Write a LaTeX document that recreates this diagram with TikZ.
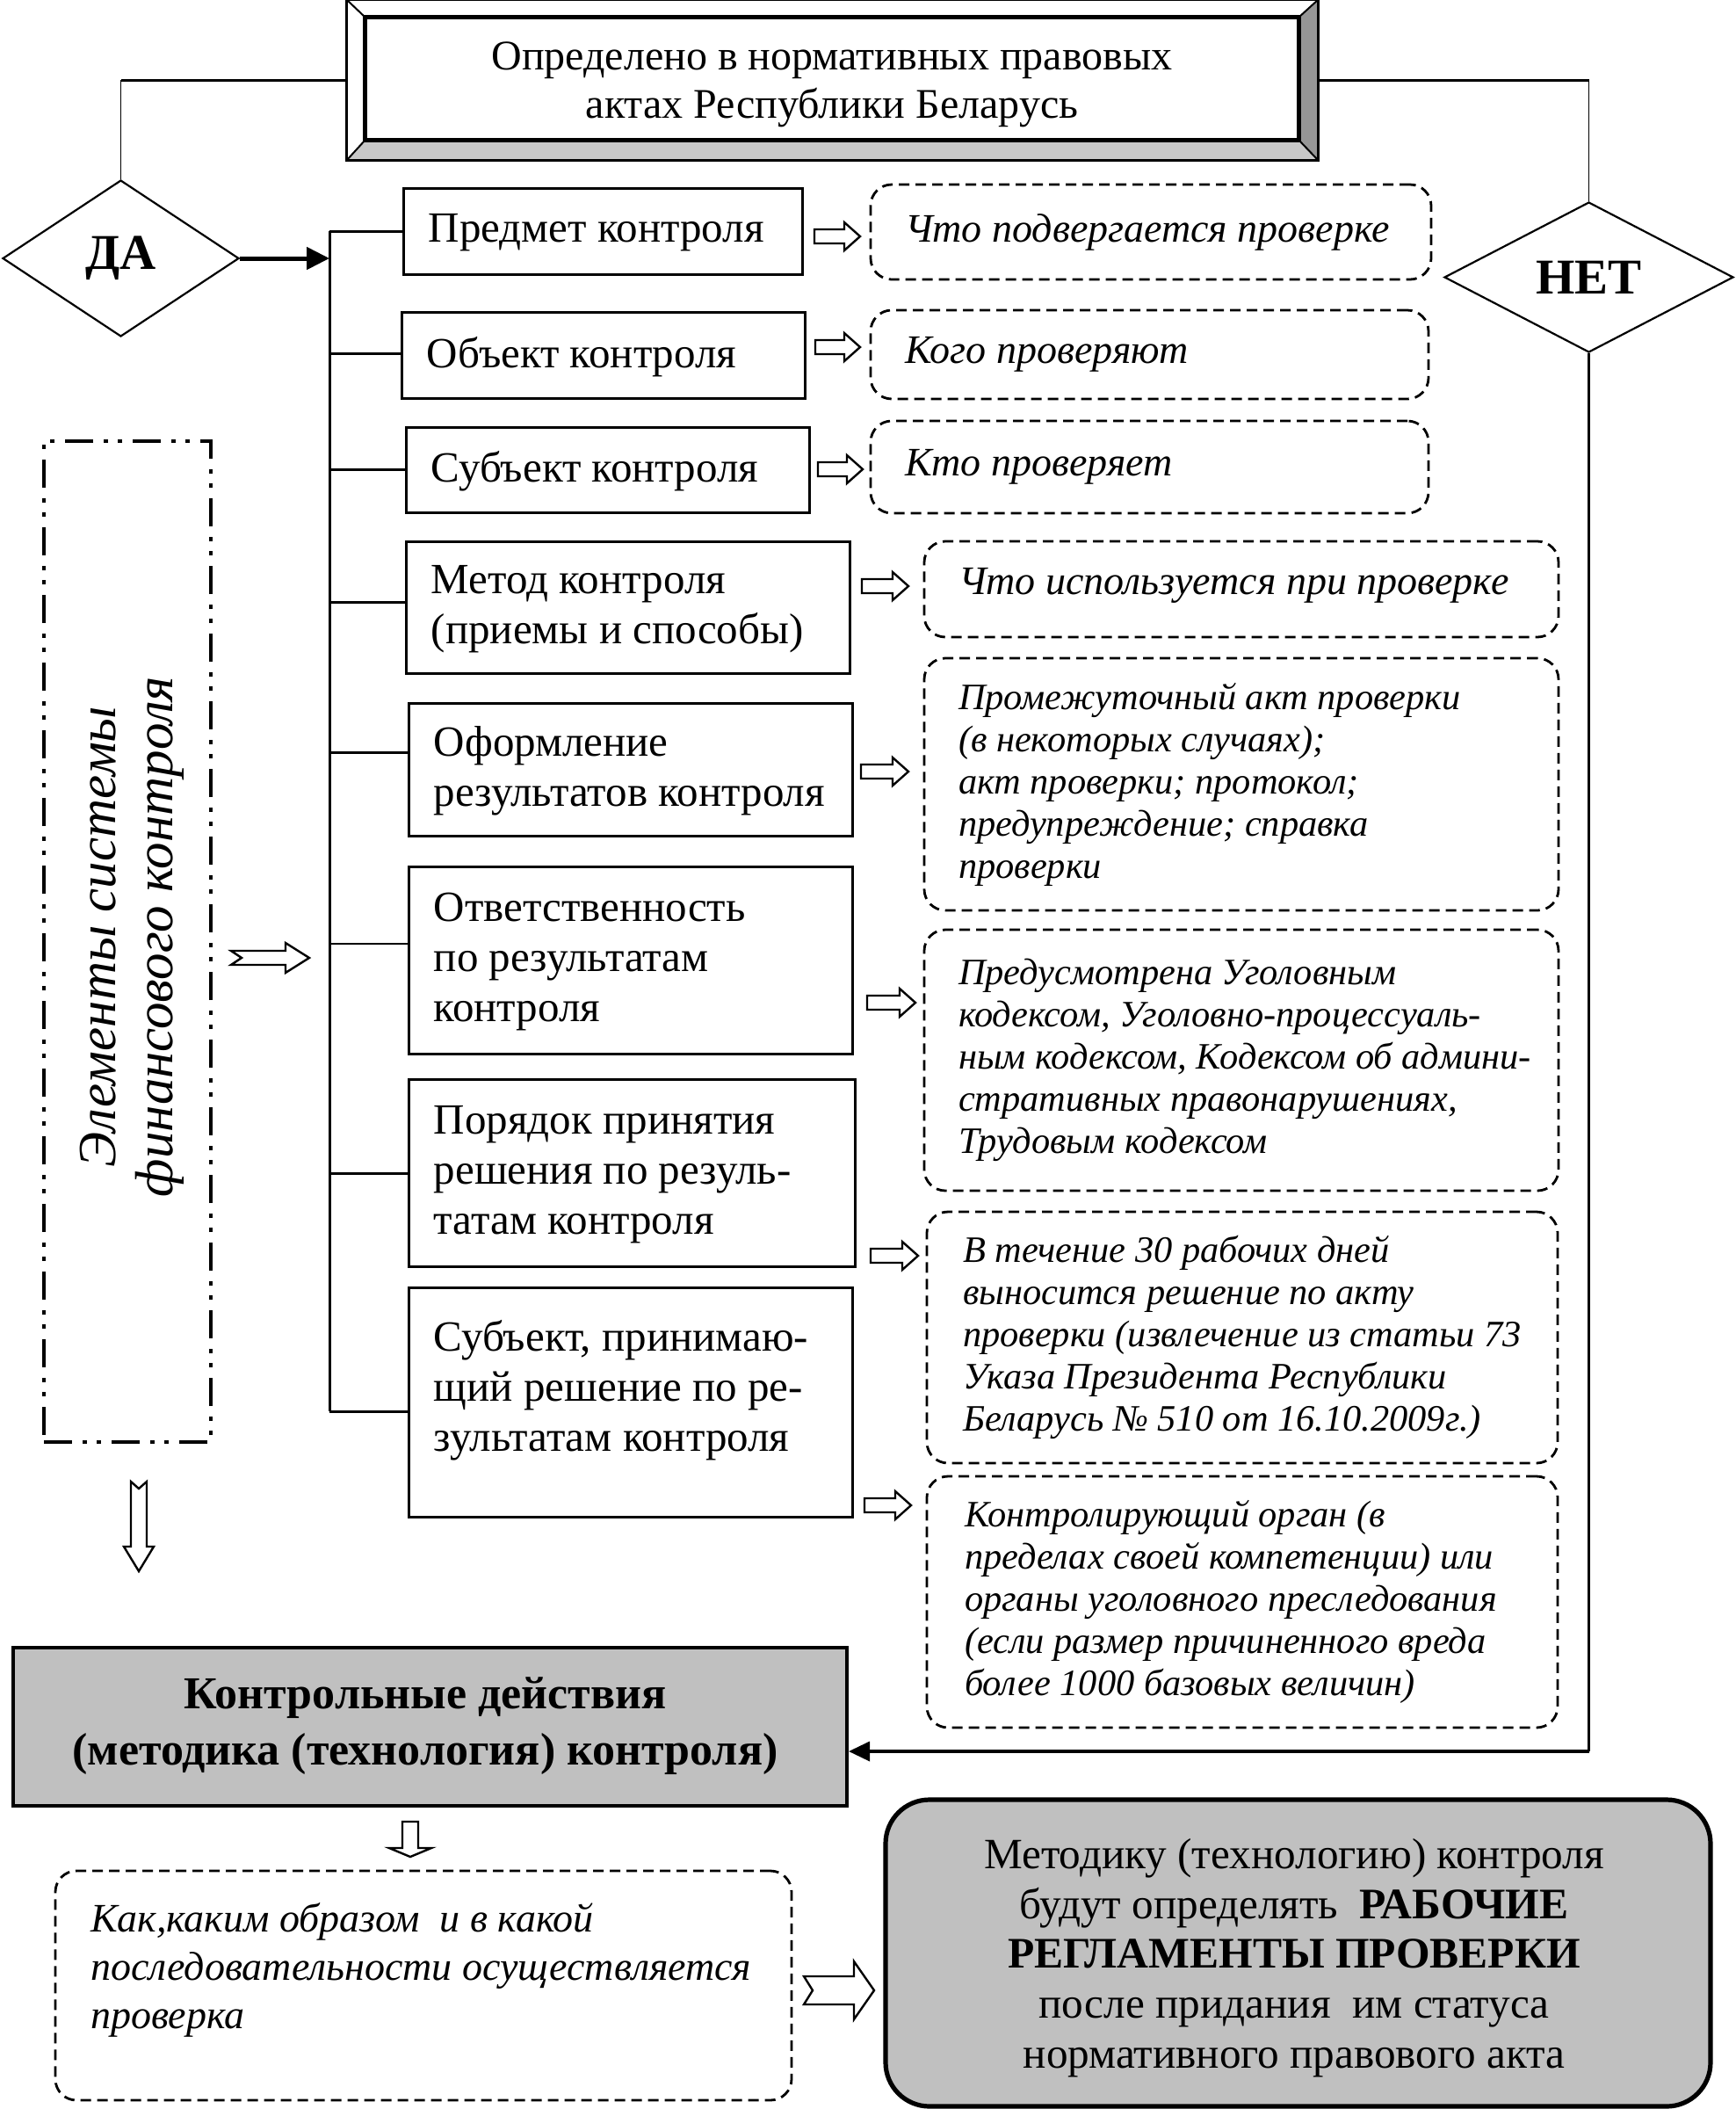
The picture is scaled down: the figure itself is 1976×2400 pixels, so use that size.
\documentclass[tikz,border=0pt]{standalone}
\usepackage{fontspec}
\setmainfont{Liberation Serif}
\usetikzlibrary{shapes.geometric,arrows.meta,calc}
\definecolor{boxgray}{RGB}{192,192,192}
\definecolor{bevdark}{RGB}{150,150,150}
\definecolor{bevlight}{RGB}{200,200,200}
\newcommand{\harr}[8]{%
  \draw[harrow, shift={(#1,#2)}, rotate=#3] (0,-#5) -- ({#4-#7},-#5) -- ({#4-#7},-#6) -- (#4,0) -- ({#4-#7},#6) -- ({#4-#7},#5) -- (0,#5) -- (#8,0) -- cycle;}
\begin{document}
\begin{tikzpicture}[x=0.5pt,y=-0.5pt,
  lbox/.style={draw, line width=1.5pt, inner sep=0pt},
  ltext/.style={anchor=west, align=left, inner sep=0pt, font=\fontsize{24.5}{28.6}\selectfont},
  rbox/.style={draw, line width=1.4pt, dash pattern=on 6pt off 3.5pt, rounded corners=12pt, inner sep=0pt},
  rtext/.style={anchor=west, align=left, inner sep=0pt, font=\fontsize{21.2}{24}\selectfont\itshape},
  rtextbig/.style={rtext, font=\fontsize{23}{26}\selectfont\itshape},
  harrow/.style={draw, line width=1.2pt, fill=white, line join=miter},
  link/.style={line width=1.5pt},
  thinlink/.style={line width=0.9pt},
  dia/.style={diamond, draw, line width=1.1pt, inner sep=0pt, font=\fontsize{28.5}{32}\selectfont\bfseries}
]
\useasboundingbox (0,0) rectangle (1976,2400);

% ---------- top bevel box ----------
\path node[minimum width=552.5pt, minimum height=91pt, inner sep=0pt] (top) at (947.5,91) {};
\path node[minimum width=531pt, minimum height=69.5pt, inner sep=0pt] (topin) at (947,89.5) {};
\fill[bevdark] (topin.north east) -- (top.north east) -- (top.south east) -- (topin.south east) -- cycle;
\fill[bevlight] (topin.south west) -- (topin.south east) -- (top.south east) -- (top.south west) -- cycle;
\draw[line width=1.6pt] (top.south west) rectangle (top.north east);
\draw[line width=2.2pt] (topin.south west) rectangle (topin.north east);
\draw[line width=1pt] (top.north west) -- (topin.north west);
\draw[line width=1pt] (top.north east) -- (topin.north east);
\draw[line width=1pt] (top.south west) -- (topin.south west);
\draw[line width=1pt] (top.south east) -- (topin.south east);
\node[align=center, inner sep=0pt, font=\fontsize{24}{27.5}\selectfont] (toptext) at ([yshift=-3.5pt]topin.center) {Определено в нормативных правовых\\актах Республики Беларусь};

% ---------- diamonds ----------
\node[dia, minimum width=134.5pt, minimum height=89pt] (da) at (137.5,294) {ДА};
\node[dia, minimum width=164.5pt, minimum height=85.5pt] (net) at (1808.5,315.5) {НЕТ};

% ---------- left boxes ----------
\node[lbox, minimum width=227pt, minimum height=49pt] (b1) at (686,263) {};
\node[lbox, minimum width=229.5pt, minimum height=49pt] (b2) at (686.5,404) {};
\node[lbox, minimum width=229.5pt, minimum height=48.5pt] (b3) at (691.5,534.5) {};
\node[lbox, minimum width=252.5pt, minimum height=75pt] (b4) at (714.5,691) {};
\node[lbox, minimum width=252.5pt, minimum height=75.5pt] (b5) at (717.5,875.5) {};
\node[lbox, minimum width=252.5pt, minimum height=106.5pt] (b6) at (717.5,1092.5) {};
\node[lbox, minimum width=254pt, minimum height=106.5pt] (b7) at (719,1334.5) {};
\node[lbox, minimum width=252.5pt, minimum height=130.5pt] (b8) at (717.5,1595.5) {};

\node[ltext] (t1) at ([xshift=15pt,yshift=-1pt]b1.west) {Предмет контроля};
\node[ltext] (t2) at ([xshift=15pt,yshift=-1pt]b2.west) {Объект контроля};
\node[ltext] (t3) at ([xshift=15pt,yshift=-1pt]b3.west) {Субъект контроля};
\node[ltext] (t4) at ([xshift=15pt,yshift=-1pt]b4.west) {Метод контроля\\(приемы и способы)};
\node[ltext] (t5) at ([xshift=15pt,yshift=-1pt]b5.west) {Оформление\\результатов контроля};
\node[ltext] (t6) at ([xshift=15pt,yshift=-1pt]b6.west) {Ответственность\\по результатам\\контроля};
\node[ltext] (t7) at ([xshift=15pt,yshift=-1pt]b7.west) {Порядок принятия\\решения по резуль-\\татам контроля};
\node[ltext] (t8) at ([xshift=15pt,yshift=6.5pt]b8.west) {Субъект, принимаю-\\щий решение по ре-\\зультатам контроля};

% ---------- right dashed boxes ----------
\node[rbox, minimum width=319pt, minimum height=54pt] (r1) at (1310,264) {};
\node[rbox, minimum width=317.5pt, minimum height=50.5pt] (r2) at (1308.5,403.5) {};
\node[rbox, minimum width=317.5pt, minimum height=52.5pt] (r3) at (1308.5,531.5) {};
\node[rbox, minimum width=361pt, minimum height=54.5pt] (r4) at (1413,670.5) {};
\node[rbox, minimum width=361pt, minimum height=143.5pt] (r5) at (1413,892.5) {};
\node[rbox, minimum width=361pt, minimum height=148.5pt] (r6) at (1413,1206.5) {};
\node[rbox, minimum width=359pt, minimum height=143pt] (r7) at (1414,1522) {};
\node[rbox, minimum width=359pt, minimum height=143pt] (r8) at (1414,1823) {};

\node[rtextbig] (s1) at ([xshift=20pt]r1.west) {Что подвергается проверке};
\node[rtextbig] (s2) at ([xshift=20pt]r2.west) {Кого проверяют};
\node[rtextbig] (s3) at ([xshift=20pt]r3.west) {Кто проверяет};
\node[rtextbig] (s4) at ([xshift=20pt,yshift=2pt]r4.west) {Что используется при проверке};
\node[rtext] (s5) at ([xshift=20pt]r5.west) {Промежуточный акт проверки\\(в некоторых случаях);\\акт проверки; протокол;\\предупреждение; справка\\проверки};
\node[rtext] (s6) at ([xshift=20pt]r6.west) {Предусмотрена Уголовным\\кодексом, Уголовно-процессуаль-\\ным кодексом, Кодексом об админи-\\стративных правонарушениях,\\Трудовым кодексом};
\node[rtext] (s7) at ([xshift=21pt]r7.west) {В течение 30 рабочих дней\\выносится решение по акту\\проверки (извлечение из статьи 73\\Указа Президента Республики\\Беларусь № 510 от 16.10.2009г.)};
\node[rtext] (s8) at ([xshift=22pt]r8.west) {Контролирующий орган (в\\пределах своей компетенции) или\\органы уголовного преследования\\(если размер причиненного вреда\\более 1000 базовых величин)};

% ---------- hollow arrows between columns ----------
\harr{927}{269}{0}{52}{8}{16}{18}{0}
\harr{928}{395}{0}{51}{8}{16}{18}{0}
\harr{931}{534}{0}{51}{8}{16}{18}{0}
\harr{981}{667}{0}{53}{8}{16}{18}{0}
\harr{980}{878}{0}{54}{8}{16}{18}{0}
\harr{987}{1141}{0}{55}{8}{16}{18}{0}
\harr{991}{1429}{0}{54}{8}{16}{18}{0}
\harr{984}{1713}{0}{53}{8}{16}{18}{0}

% ---------- elements box ----------
\node[draw, line width=2.3pt, dash pattern=on 16pt off 6pt on 2.5pt off 5.5pt on 2.5pt off 6pt, minimum width=95pt, minimum height=569.5pt, inner sep=0pt] (elem) at (145,1071.5) {};
\node[rotate=90, align=center, inner sep=0pt, font=\fontsize{30.5}{32.5}\selectfont\itshape] (elemt) at (150,1066) {Элементы системы\\финансового контроля};
\harr{263}{1090}{0}{89}{8}{17}{27}{12}
\harr{158}{1686}{-90}{102}{9}{17}{28}{8}

% ---------- bus and branches ----------
\coordinate (bustop) at (375,263);
\coordinate (busbot) at (375,1606);
\draw[link] (bustop) -- (busbot);
\foreach \i/\yy in {1/263,2/402,3/534,4/685,5/856,7/1335,8/1606}{
  \coordinate (j\i) at (375,\yy);
  \draw[link] (j\i) -- (j\i -| b\i.west);
}
\coordinate (j6) at (375,1074);
\draw[thinlink] (j6) -- (j6 -| b6.west);

\draw[line width=2.5pt, -{Triangle[length=13pt,width=12.5pt]}] (da.east) -- (da.east -| bustop);

% ---------- top connectors ----------
\coordinate (tl) at (da.north |- top.west);
\draw[link] (top.west) -- (tl);
\draw[thinlink] (tl) -- (da.north);
\coordinate (tr) at (net.north |- top.east);
\draw[link] (top.east) -- (tr);
\draw[thinlink] (tr) -- (net.north);

% ---------- bottom part ----------
\node[draw, line width=2pt, fill=boxgray, minimum width=474.5pt, minimum height=90pt, inner sep=0pt] (kd) at (489.5,1965) {};
\node[align=center, inner sep=0pt, font=\fontsize{26}{32}\selectfont\bfseries] (kdt) at (484,1964) {Контрольные действия\\(методика (технология) контроля)};

\coordinate (nkc) at (1808.5,1993);
\draw[line width=1.2pt] (net.south) -- (nkc);
\draw[line width=1.8pt, -{Triangle[length=12pt,width=11pt]}] (nkc) -- (nkc -| kd.east);

\harr{467}{2073}{-90}{40}{9}{24}{10}{0}

\node[rbox, minimum width=419pt, minimum height=130.5pt] (how) at (482,2259.5) {};
\node[anchor=west, align=left, inner sep=0pt, font=\fontsize{23}{27.5}\selectfont\itshape] (howt) at ([xshift=20.5pt,yshift=9pt]how.west) {Как,каким образом\ \ и в какой\\последовательности осуществляется\\проверка};

\harr{915}{2265}{0}{80}{16}{33}{23}{10}

\node[draw, line width=2.6pt, fill=boxgray, rounded corners=25pt, minimum width=469.5pt, minimum height=174.5pt, inner sep=0pt] (reg) at (1477.5,2222.5) {};
\node[align=center, inner sep=0pt, font=\fontsize{24.6}{28.3}\selectfont] (regt) at (1473,2228) {Методику (технологию) контроля\\будут определять\ \ {\bfseries\fontsize{24.8}{28.3}\selectfont РАБОЧИЕ}\\{\bfseries\fontsize{24.8}{28.3}\selectfont РЕГЛАМЕНТЫ ПРОВЕРКИ}\\после придания\ \ им статуса\\нормативного правового акта};

\end{tikzpicture}
\end{document}
